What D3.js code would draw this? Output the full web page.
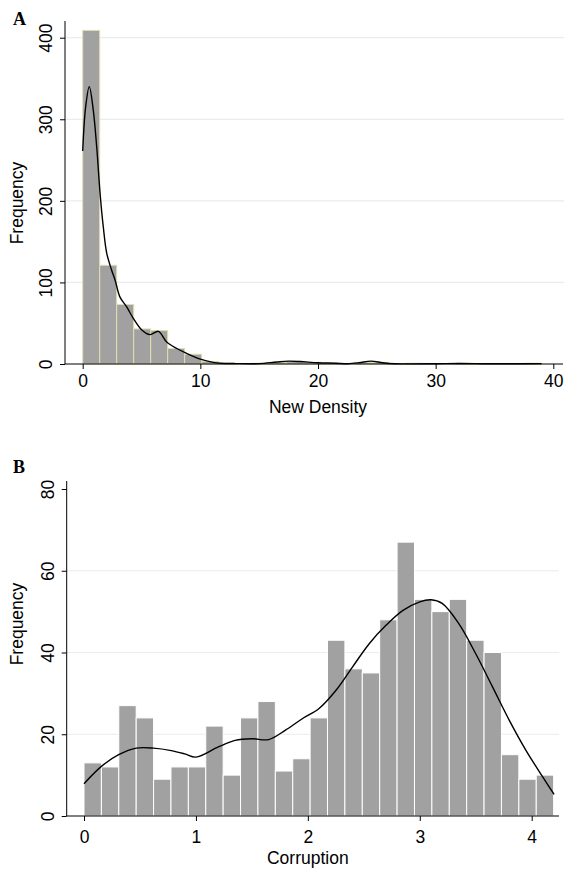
<!DOCTYPE html>
<html><head><meta charset="utf-8">
<script src="https://cdn.jsdelivr.net/npm/d3@7"></script>
<style>
body{margin:0;background:#fff;}
</style></head>
<body>
<svg id="c" width="566" height="871"></svg>
<script>
// Panel A: New Density histogram (27 bins, 0..39)
const binsA = [409,121,73,43,41,19,12,3,1,0,1,2,3,2,1,0,2,2,0,1,0,0,1,0,0,0,1];
const rangeA = [0,39];
const densAx = [0,0.25,0.56,0.9,1.19,1.5,1.75,2.04,2.46,2.75,3.17,3.74,4.3,5.0,5.72,6.43,7.14,8.0,8.84,10,11.1,11.7,13,15,16.5,17.5,18.5,20,21.5,22.5,23.5,24.5,25.5,26.5,28,30,32,34,36,39];
const densAy = [261,315,340,311,266,205,168,136,115,103,82,70,56,42,36,40,27,19,13,6,2,1,0.5,0.5,2.5,3.5,3,1.5,1,0.3,1.5,3.5,1.5,0.3,0.2,0.3,0.6,0.3,0.3,0.5];
const ticksAx = [0,10,20,30,40];
const ticksAy = [0,100,200,300,400];
const gridAy = [100,200,300,400];

// Panel B: Corruption histogram (27 bins, 0..4.2)
const binsB = [13,12,27,24,9,12,12,22,10,24,28,11,14,24,43,36,35,48,67,53,50,53,43,40,15,9,10];
const rangeB = [0,4.196];
const densBx = [0,0.158,0.31,0.467,0.62,0.78,0.9,1.0,1.2,1.35,1.5,1.65,1.8,1.95,2.1,2.25,2.4,2.55,2.7,2.85,3.0,3.1,3.2,3.35,3.5,3.65,3.8,3.95,4.1,4.2];
const densBy = [7.9,12.2,15,16.6,16.6,16,15.2,14.4,16.9,18.5,18.9,18.7,21,23.8,26.3,30.7,36.5,42.2,46.7,50.3,52.4,52.9,52,47,39.7,31.6,23.4,16,9.5,5.3];
const ticksBx = [0,1,2,3,4];
const ticksBy = [0,20,40,60,80];
const gridBy = [20,40,60];

const svg = d3.select("#c");
const FONT = '"Liberation Sans",Arial,sans-serif';
const SERIF = '"Liberation Serif","DejaVu Serif",serif';
const FS = 17.5;

function panel(o){
  const g = svg.append("g");
  const x = d3.scaleLinear().domain(o.xdom).range(o.xr);
  const y = d3.scaleLinear().domain(o.ydom).range(o.yr);
  // gridlines
  g.selectAll(".grid").data(o.grid).join("line")
    .attr("x1", o.axisX).attr("x2", o.gridEnd)
    .attr("y1", d=>y(d)).attr("y2", d=>y(d))
    .attr("stroke","#e6eef0").attr("stroke-width",1.2);
  // bars
  const n = o.bins.length;
  const w = (o.range[1]-o.range[0])/n;
  g.selectAll(".bar").data(o.bins).join("rect")
    .attr("x",(d,i)=>x(o.range[0]+i*w))
    .attr("width",(d,i)=>x(o.range[0]+(i+1)*w)-x(o.range[0]+i*w))
    .attr("y",d=>y(d))
    .attr("height",d=>y(0)-y(d))
    .attr("fill","#a1a1a1")
    .attr("stroke",o.barStroke).attr("stroke-width",o.barStrokeW);
  // density
  const pts = o.dx.map((v,i)=>[v,o.dy[i]]);
  g.append("path").datum(pts)
    .attr("d", d3.line().x(d=>x(d[0])).y(d=>y(d[1])).curve(d3.curveCatmullRom.alpha(0.5)))
    .attr("fill","none").attr("stroke","#000").attr("stroke-width",1.4);
  // axes
  const ax = g.append("g").attr("transform",`translate(0,${y(0)})`)
    .call(d3.axisBottom(x).tickValues(o.xt).tickSize(5).tickPadding(o.xPad).tickFormat(d3.format("d")));
  ax.select(".domain").remove();
  ax.append("line").attr("x1",o.axisX).attr("x2",o.xAxisEnd).attr("y1",0).attr("y2",0).attr("stroke","#000");
  ax.selectAll("text").style("font-size",FS+"px").style("font-family",FONT).attr("fill","#000");
  const ay = g.append("g").attr("transform",`translate(${o.axisX},0)`)
    .call(d3.axisLeft(y).tickValues(o.yt).tickSize(5).tickFormat(d3.format("d")));
  ay.select(".domain").remove();
  ay.append("line").attr("x1",0).attr("x2",0).attr("y1",y(0)).attr("y2",o.yAxisTop).attr("stroke","#000");
  ay.selectAll(".tick text")
    .style("font-size",FS+"px").style("font-family",FONT).attr("fill","#000")
    .attr("x",null).attr("dy",null)
    .attr("text-anchor","middle")
    .attr("transform","translate(-13,0) rotate(-90)");
  // titles
  svg.append("text").attr("x",(o.xr[0]+o.xr[1])/2).attr("y",o.xTitleY)
    .attr("text-anchor","middle").style("font-size",FS+"px").style("font-family",FONT).text(o.xTitle);
  svg.append("text").attr("transform",`translate(22.5,${o.yTitleC}) rotate(-90)`)
    .attr("text-anchor","middle").style("font-size",FS+"px").style("font-family",FONT).text("Frequency");
  svg.append("text").attr("x",13).attr("y",o.labelY)
    .style("font-size","18px").style("font-weight","bold")
    .style("font-family",SERIF).text(o.label);
}

panel({xdom:[0,40], xr:[82.7,553.3], ydom:[0,400], yr:[364,37.7],
  axisX:65, gridEnd:564, xAxisEnd:563, yAxisTop:21, xPad:6,
  bins:binsA, range:rangeA, barStroke:"#e2deb0", barStrokeW:1,
  dx:densAx, dy:densAy, xt:ticksAx, yt:ticksAy, grid:gridAy,
  xTitle:"New Density", xTitleY:413, yTitleC:203, label:"A", labelY:25});

panel({xdom:[0,4], xr:[84,531.7], ydom:[0,80], yr:[816,489],
  axisX:66.7, gridEnd:559, xAxisEnd:559, yAxisTop:481, xPad:9.5,
  bins:binsB, range:rangeB, barStroke:"#ffffff", barStrokeW:1,
  dx:densBx, dy:densBy, xt:ticksBx, yt:ticksBy, grid:gridBy,
  xTitle:"Corruption", xTitleY:864, yTitleC:624, label:"B", labelY:473});
</script>
</body></html>
